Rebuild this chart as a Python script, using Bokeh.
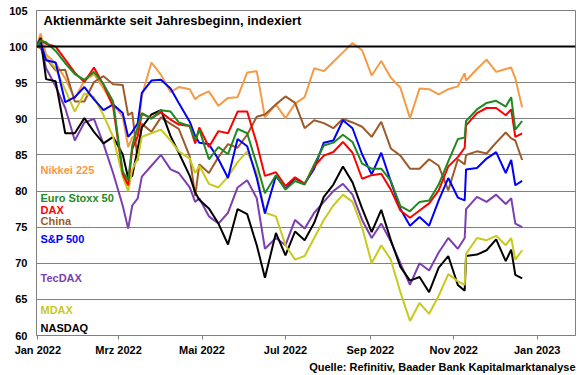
import pandas as pd
from bokeh.plotting import figure
from bokeh.models import FixedTicker, Span, Label, Range1d, Title
from bokeh.embed import file_html
from bokeh.resources import INLINE

# ---------------- data ----------------
DATES = ["2021-12-31", "2022-01-03", "2022-01-07", "2022-01-14", "2022-01-21", "2022-01-28",
         "2022-02-04", "2022-02-11", "2022-02-18", "2022-02-25",
         "2022-03-04", "2022-03-08", "2022-03-11", "2022-03-15", "2022-03-18", "2022-03-25",
         "2022-04-01", "2022-04-08", "2022-04-14", "2022-04-22", "2022-04-26", "2022-04-29",
         "2022-05-06", "2022-05-13", "2022-05-20", "2022-05-27",
         "2022-06-03", "2022-06-10", "2022-06-16", "2022-06-24",
         "2022-07-01", "2022-07-08", "2022-07-15", "2022-07-22", "2022-07-29",
         "2022-08-05", "2022-08-12", "2022-08-19", "2022-08-26",
         "2022-09-02", "2022-09-09", "2022-09-16", "2022-09-23", "2022-09-30",
         "2022-10-07", "2022-10-14", "2022-10-21", "2022-10-28",
         "2022-11-04", "2022-11-09", "2022-11-10", "2022-11-18", "2022-11-25",
         "2022-12-02", "2022-12-09", "2022-12-13", "2022-12-16", "2022-12-21"]

NIKKEI = [100, 101.8, 98.9, 97.7, 95.6, 92.8, 95.3, 96.2, 94.2, 92.0,
          90.3, 86.1, 87.4, 88.0, 93.2, 97.8, 96.1, 93.7, 94.4, 94.1, 92.7, 93.2,
          93.8, 91.8, 92.9, 93.0, 96.4, 96.6, 90.2, 92.0, 90.1, 92.1, 93.0, 97.0, 96.6,
          97.9, 99.2, 100.5, 99.5, 96.0, 98.0, 95.7, 94.3, 90.1, 94.2, 94.1, 93.4, 94.1,
          94.5, 96.3, 95.3, 96.9, 98.2, 96.5, 96.9, 97.1, 95.6, 91.6]
EUROSTOXX = [100, 100.8, 100.6, 99.4, 97.7, 96.2, 95.4, 96.5, 94.8, 92.4,
             82.7, 81.5, 86.3, 88.9, 90.8, 90.0, 91.2, 91.0, 89.5, 89.0, 87.1, 88.5,
             84.4, 86.1, 85.1, 88.6, 88.0, 83.7, 79.7, 82.2, 80.2, 81.4, 80.9, 83.7, 86.3,
             86.7, 87.8, 86.8, 83.8, 83.1, 83.1, 81.4, 77.9, 77.2, 78.5, 78.7, 80.9, 84.1,
             87.2, 87.4, 89.7, 91.3, 92.2, 92.5, 91.7, 93.0, 88.5, 89.7]
DAX = [100, 100.9, 100.4, 100.0, 98.2, 96.4, 95.1, 97.1, 94.7, 91.7,
       82.4, 80.8, 85.8, 87.6, 90.7, 90.1, 90.9, 89.9, 89.2, 89.0, 86.6, 88.8,
       86.1, 88.3, 88.0, 91.0, 91.0, 86.6, 82.1, 82.6, 80.7, 81.9, 81.0, 83.4, 84.9,
       85.4, 86.8, 85.3, 81.7, 82.2, 82.4, 80.2, 77.3, 76.3, 77.3, 78.3, 80.1, 83.4,
       84.7, 86.0, 89.1, 90.8, 91.5, 91.5, 90.5, 91.3, 87.5, 88.0]
CHINA = [100, 99.8, 98.4, 96.7, 96.8, 92.4, 92.4, 95.1, 95.9, 94.8,
         94.7, 90.5, 90.9, 84.2, 89.3, 88.2, 90.2, 89.3, 88.6, 84.8, 79.3, 83.7,
         82.5, 84.7, 86.5, 86.0, 87.8, 90.3, 90.6, 92.0, 93.1, 92.2, 88.7, 89.8, 89.4,
         88.7, 90.0, 89.5, 88.9, 87.5, 89.6, 85.9, 84.9, 83.1, 83.1, 84.4, 83.5, 80.1,
         84.4, 83.7, 85.0, 85.5, 85.2, 86.7, 88.1, 87.3, 87.0, 84.3]
SP500 = [100, 100.6, 98.1, 97.8, 92.3, 93.0, 94.4, 92.7, 91.2, 92.0,
         90.8, 87.5, 88.2, 89.4, 93.6, 95.3, 95.4, 94.2, 92.2, 89.6, 87.6, 86.7,
         86.5, 84.4, 81.8, 87.2, 86.2, 81.8, 76.9, 82.1, 80.3, 81.8, 81.0, 83.1, 86.7,
         87.0, 89.8, 88.7, 85.1, 82.3, 85.3, 81.3, 77.5, 75.2, 76.4, 75.2, 78.7, 81.8,
         79.1, 78.7, 83.0, 83.2, 84.5, 85.4, 82.5, 84.3, 80.8, 81.4]
TECDAX = [100, 100.3, 97.0, 94.5, 91.5, 87.0, 89.5, 90.0, 86.5, 82.5,
          78.0, 74.8, 78.0, 79.0, 82.0, 83.5, 85.0, 83.0, 82.5, 80.5, 78.5, 79.0,
          76.5, 75.5, 77.0, 80.5, 81.5, 79.0, 72.0, 73.5, 72.5, 76.0, 74.8, 77.0, 78.5,
          80.0, 81.0, 79.5, 76.0, 73.5, 75.5, 73.0, 70.0, 67.0, 70.0, 69.0, 71.5, 73.5,
          72.0, 73.5, 77.5, 79.2, 78.5, 79.5, 78.2, 79.0, 75.5, 75.0]
MDAX = [100, 100.5, 98.5, 97.0, 94.0, 91.0, 93.5, 93.0, 90.5, 87.5,
        82.0, 80.0, 83.0, 84.5, 87.5, 88.0, 88.5, 87.0, 85.5, 84.5, 82.5, 83.5,
        81.0, 80.5, 82.0, 84.0, 85.5, 82.5, 77.0, 76.5, 72.5, 70.5, 71.0, 73.5, 76.0,
        78.0, 79.5, 78.5, 75.0, 70.0, 72.5, 70.5, 66.0, 62.0, 64.5, 63.0, 65.5, 68.5,
        67.5, 67.0, 71.3, 73.5, 73.2, 73.8, 72.5, 73.5, 70.5, 71.8]
NASDAQ = [100, 101.2, 95.5, 95.2, 88.0, 88.0, 90.1, 88.2, 86.6, 87.5,
          85.1, 81.8, 82.1, 85.9, 88.8, 90.6, 91.2, 87.6, 85.3, 82.1, 79.8, 78.8,
          77.6, 75.5, 72.6, 77.5, 76.8, 72.5, 68.0, 74.2, 71.1, 74.4, 73.2, 75.6, 79.2,
          80.9, 83.4, 81.2, 77.6, 74.3, 77.4, 73.2, 69.5, 67.6, 68.1, 66.0, 69.4, 71.0,
          67.0, 66.2, 71.0, 71.2, 71.8, 73.3, 70.3, 71.9, 68.4, 67.9]

SERIES_NAMES = ["Nikkei 225", "Euro Stoxx 50", "DAX", "China", "S&P 500", "TecDAX", "MDAX", "NASDAQ"]
SERIES_VALUES = [NIKKEI, EUROSTOXX, DAX, CHINA, SP500, TECDAX, MDAX, NASDAQ]
SERIES_COLORS = ["#F59A46", "#1F8A1F", "#FF0000", "#9E5B2A", "#0000FF", "#7B3FB0", "#C9C91E", "#000000"]
DRAW_ORDER = ["Nikkei 225", "China", "TecDAX", "NASDAQ", "MDAX", "S&P 500", "DAX", "Euro Stoxx 50"]

Y_TICKS = [60, 65, 70, 75, 80, 85, 90, 95, 100, 105]
X_TICKS = ["2022-01-01", "2022-03-01", "2022-05-01", "2022-07-01", "2022-09-01", "2022-11-01", "2023-01-01"]
X_TICK_LABELS = ["Jan 2022", "Mrz 2022", "Mai 2022", "Jul 2022", "Sep 2022", "Nov 2022", "Jan 2023"]
BASE = 100
TITLE = "Aktienmärkte seit Jahresbeginn, indexiert"
SOURCE = "Quelle: Refinitiv, Baader Bank Kapitalmarktanalyse"

# layout positions (value units) for the series name labels and title
LABEL_Y = [82.9, 79.1, 77.4, 75.8, 73.4, 68.0, 63.6, 61.1]
TITLE_Y = 103.6
FONT = "Liberation Sans"

# ---------------- figure ----------------
dates = pd.to_datetime(DATES)
p = figure(width=578, height=374, x_axis_type="datetime",
           x_range=Range1d(pd.Timestamp("2021-12-31"), pd.Timestamp("2023-01-29")),
           y_range=Range1d(60, 105),
           output_backend="svg", toolbar_location=None,
           min_border_left=36, min_border_right=3, min_border_top=10, min_border_bottom=39)
p.background_fill_color = "white"
p.border_fill_color = "white"
p.outline_line_color = "#7f7f7f"
p.outline_line_width = 1

p.xgrid.visible = False
p.ygrid.ticker = FixedTicker(ticks=Y_TICKS)
p.ygrid.grid_line_color = "#808080"
p.ygrid.grid_line_width = 1

p.yaxis.ticker = FixedTicker(ticks=Y_TICKS)
p.yaxis.major_tick_out = 0
p.yaxis.major_tick_in = 0
p.yaxis.minor_tick_out = 0
p.yaxis.minor_tick_in = 0
p.yaxis.major_label_standoff = 9
p.yaxis.axis_line_color = "#7f7f7f"

x_ms = [float(pd.Timestamp(d).value // 10**6) for d in X_TICKS]
p.xaxis.ticker = FixedTicker(ticks=x_ms)
p.xaxis.major_label_overrides = {k: lab for k, lab in zip(x_ms, X_TICK_LABELS)}
p.xaxis.major_tick_out = 4
p.xaxis.major_tick_in = 0
p.xaxis.minor_tick_out = 0
p.xaxis.minor_tick_in = 0
p.xaxis.major_label_standoff = 4
p.xaxis.axis_line_color = "#7f7f7f"
p.xaxis.major_tick_line_color = "#7f7f7f"

for ax in (p.xaxis, p.yaxis):
    ax.major_label_text_font = FONT
    ax.major_label_text_font_size = "11px"
    ax.major_label_text_font_style = "bold"
    ax.major_label_text_color = "#000000"

p.add_layout(Span(location=BASE, dimension="width", line_color="black", line_width=2))

color_of = dict(zip(SERIES_NAMES, SERIES_COLORS))
values_of = dict(zip(SERIES_NAMES, SERIES_VALUES))
for name in DRAW_ORDER:
    p.line(dates, values_of[name], line_color=color_of[name], line_width=2)

for name, ly, col in zip(SERIES_NAMES, LABEL_Y, SERIES_COLORS):
    p.add_layout(Label(x=4, y=ly, x_units="screen", y_units="data", text=name,
                       text_color=col, text_font=FONT, text_font_size="11px",
                       text_font_style="bold", text_baseline="middle"))

p.add_layout(Label(x=7, y=TITLE_Y, x_units="screen", y_units="data", text=TITLE,
                   text_color="black", text_font=FONT, text_font_size="13px",
                   text_font_style="bold", text_baseline="middle"))

p.add_layout(Title(text=SOURCE, align="right", text_color="black", text_font=FONT,
                   text_font_size="11px", text_font_style="bold", standoff=1, offset=0),
             "below")

open("out.html", "w").write(file_html(p, INLINE))
